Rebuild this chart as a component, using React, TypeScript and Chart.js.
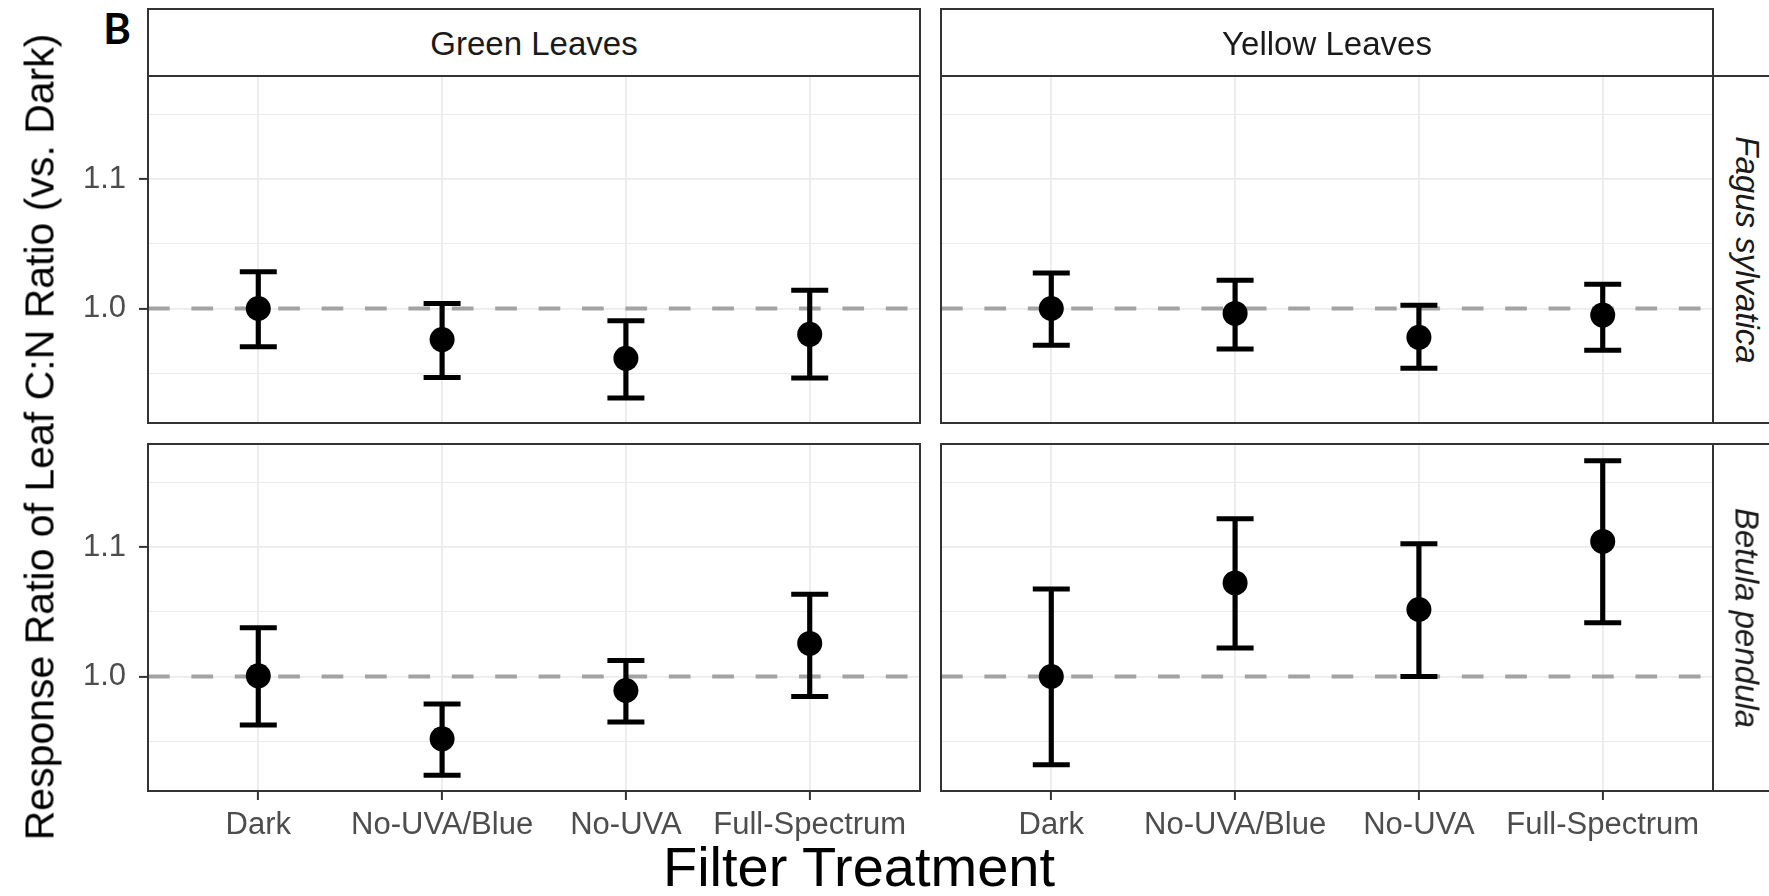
import React, { useEffect, useRef } from "react";
import { Chart, registerables } from "chart.js";

Chart.register(...registerables);

// ---------- data ----------
const treatments = ["Dark", "No-UVA/Blue", "No-UVA", "Full-Spectrum"];
const leafTypes = ["Green Leaves", "Yellow Leaves"];
const speciesNames = ["Fagus sylvatica", "Betula pendula"];

const fagusGreenMean = [1.0, 0.976, 0.9615, 0.98];
const fagusGreenLow = [0.9704, 0.9466, 0.9308, 0.9462];
const fagusGreenHigh = [1.0284, 1.0039, 0.9905, 1.0141];

const fagusYellowMean = [1.0, 0.9962, 0.9777, 0.9949];
const fagusYellowLow = [0.9715, 0.9687, 0.9538, 0.9677];
const fagusYellowHigh = [1.0274, 1.0218, 1.0026, 1.0187];

const betulaGreenMean = [1.0005, 0.9518, 0.9892, 1.0256];
const betulaGreenLow = [0.9626, 0.9236, 0.9649, 0.9846];
const betulaGreenHigh = [1.0377, 0.9787, 1.0123, 1.0636];

const betulaYellowMean = [1.0, 1.0723, 1.0518, 1.1044];
const betulaYellowLow = [0.9318, 1.022, 1.0, 1.0415];
const betulaYellowHigh = [1.0677, 1.122, 1.1026, 1.1667];

const yMajorTicks = [1.0, 1.1];
const yMinorStep = 0.05;
const yMin = 0.9115;
const yMax = 1.1797;
const referenceValue = 1.0;

const yTitle = "Response Ratio of Leaf C:N Ratio (vs. Dark)";
const xTitle = "Filter Treatment";
const panelLetter = "B";

// ---------- layout ----------
const FONT = "'Liberation Sans', Arial, sans-serif";
const colLeft = [148, 941];
const panelW = 772;
const rowTop = [76, 444];
const panelH = 347;
const Y_AXIS_W = 148;
const X_AXIS_H = 62;
const M = 3;

const isMajor = (v: number) => yMajorTicks.some((t) => Math.abs(t - v) < 1e-6);

const panelPlugin = {
  id: "panelDeco",
  beforeDatasetsDraw(chart: any) {
    const { ctx, chartArea, scales } = chart;
    const y = scales.y.getPixelForValue(referenceValue);
    ctx.save();
    ctx.beginPath();
    ctx.rect(chartArea.left, chartArea.top, chartArea.right - chartArea.left, chartArea.bottom - chartArea.top);
    ctx.clip();
    ctx.strokeStyle = "#a3a3a3";
    ctx.lineWidth = 4;
    ctx.setLineDash([21.7, 21.7]);
    ctx.beginPath();
    ctx.moveTo(chartArea.left, y);
    ctx.lineTo(chartArea.right, y);
    ctx.stroke();
    ctx.restore();
  },
  afterDatasetsDraw(chart: any) {
    const { ctx, chartArea } = chart;
    ctx.save();
    ctx.strokeStyle = "#333333";
    ctx.lineWidth = 2;
    ctx.strokeRect(chartArea.left, chartArea.top, chartArea.right - chartArea.left, chartArea.bottom - chartArea.top);
    ctx.restore();
  },
};

type PanelProps = {
  mean: number[];
  low: number[];
  high: number[];
  col: number;
  row: number;
};

function Panel({ mean, low, high, col, row }: PanelProps) {
  const ref = useRef<HTMLCanvasElement | null>(null);
  const showY = col === 0;
  const showX = row === 1;
  const leftExtra = showY ? Y_AXIS_W : M;
  const bottomExtra = showX ? X_AXIS_H : M;
  const cw = leftExtra + panelW + M;
  const ch = M + panelH + bottomExtra;
  const left = colLeft[col] - leftExtra;
  const top = rowTop[row] - M;

  useEffect(() => {
    if (!ref.current) return;
    const xs = treatments.map((_, i) => i + 1);
    const tickFont = { family: FONT, size: 31 };
    const chart = new Chart(ref.current, {
      type: "bar",
      data: {
        datasets: [
          {
            type: "line",
            data: xs.map((x, i) => ({ x, y: mean[i] })),
            showLine: false,
            pointRadius: 12.5,
            pointBackgroundColor: "#000000",
            pointBorderWidth: 0,
            order: 0,
          } as any,
          {
            type: "line",
            data: xs.map((x, i) => ({ x, y: high[i] })),
            showLine: false,
            pointStyle: "line",
            pointRadius: 18.5,
            pointBorderWidth: 5,
            pointBorderColor: "#000000",
            order: 1,
          } as any,
          {
            type: "line",
            data: xs.map((x, i) => ({ x, y: low[i] })),
            showLine: false,
            pointStyle: "line",
            pointRadius: 18.5,
            pointBorderWidth: 5,
            pointBorderColor: "#000000",
            order: 1,
          } as any,
          {
            type: "bar",
            data: xs.map((x, i) => ({ x, y: [low[i], high[i]] })),
            backgroundColor: "#000000",
            borderWidth: 0,
            barThickness: 4.5,
            order: 2,
          } as any,
        ],
      },
      options: {
        responsive: false,
        maintainAspectRatio: false,
        animation: false,
        devicePixelRatio: 1,
        layout: {
          autoPadding: false,
          padding: { left: showY ? 0 : M, right: M, top: M, bottom: showX ? 0 : M },
        },
        plugins: { legend: { display: false }, tooltip: { enabled: false } },
        scales: {
          x: {
            type: "linear",
            min: 0.4,
            max: 4.6,
            offset: false,
            afterBuildTicks: (s: any) => {
              s.ticks = xs.map((v) => ({ value: v }));
            },
            ticks: {
              display: showX,
              autoSkip: false,
              maxRotation: 0,
              color: "#4d4d4d",
              font: tickFont,
              padding: 7,
              callback: (v: any) => treatments[Math.round(v) - 1] ?? "",
            },
            grid: {
              offset: false,
              color: "#ebebeb",
              lineWidth: 1.8,
              drawTicks: showX,
              tickLength: 9,
              tickColor: "#333333",
              tickWidth: 2,
            },
            border: { display: false },
            afterFit: (s: any) => {
              s.height = showX ? X_AXIS_H : 0;
              s.paddingLeft = 0;
              s.paddingRight = 0;
            },
          },
          y: {
            type: "linear",
            min: yMin,
            max: yMax,
            ticks: {
              display: showY,
              stepSize: yMinorStep,
              includeBounds: false,
              autoSkip: false,
              color: "#4d4d4d",
              font: tickFont,
              padding: 13,
              callback: (v: any) => (isMajor(Number(v)) ? Number(v).toFixed(1) : ""),
            },
            grid: {
              offset: false,
              color: "#ebebeb",
              lineWidth: (c: any) => (c.tick && isMajor(c.tick.value) ? 1.8 : 1.1),
              drawTicks: showY,
              tickLength: 9,
              tickColor: (c: any) => (c.tick && isMajor(c.tick.value) ? "#333333" : "rgba(0,0,0,0)"),
              tickWidth: 2,
            },
            border: { display: false },
            afterFit: (s: any) => {
              s.width = showY ? Y_AXIS_W : 0;
              s.paddingTop = 0;
              s.paddingBottom = 0;
            },
          },
        },
      } as any,
      plugins: [panelPlugin],
    });
    return () => chart.destroy();
  }, []);

  return (
    <canvas
      ref={ref}
      width={cw}
      height={ch}
      style={{ position: "absolute", left, top, width: cw, height: ch }}
    />
  );
}

const centered = (x: number, y: number, extra: React.CSSProperties = {}): React.CSSProperties => ({
  position: "absolute",
  left: x,
  top: y,
  transform: "translate(-50%, -50%)",
  whiteSpace: "nowrap",
  lineHeight: 1,
  fontFamily: FONT,
  ...extra,
});

export default function App() {
  useEffect(() => {
    document.body.style.margin = "0";
  }, []);

  const panels = [
    { mean: fagusGreenMean, low: fagusGreenLow, high: fagusGreenHigh, col: 0, row: 0 },
    { mean: fagusYellowMean, low: fagusYellowLow, high: fagusYellowHigh, col: 1, row: 0 },
    { mean: betulaGreenMean, low: betulaGreenLow, high: betulaGreenHigh, col: 0, row: 1 },
    { mean: betulaYellowMean, low: betulaYellowLow, high: betulaYellowHigh, col: 1, row: 1 },
  ];

  return (
    <div
      style={{
        position: "relative",
        width: 1769,
        height: 896,
        overflow: "hidden",
        background: "#ffffff",
      }}
    >
      {panels.map((p, i) => (
        <Panel key={i} {...p} />
      ))}

      {leafTypes.map((name, c) => (
        <div
          key={name}
          style={{
            position: "absolute",
            left: colLeft[c] - 1,
            top: 8,
            width: panelW + 2,
            height: 69,
            boxSizing: "border-box",
            border: "2px solid #333333",
            background: "#ffffff",
          }}
        >
          <div style={centered((panelW + 2) / 2 - 2, 69 / 2 - 2, { fontSize: 33, color: "#1a1a1a" })}>{name}</div>
        </div>
      ))}

      {speciesNames.map((name, r) => (
        <div
          key={name}
          style={{
            position: "absolute",
            left: colLeft[1] + panelW - 1,
            top: rowTop[r] - 1,
            width: 69,
            height: panelH + 2,
            boxSizing: "border-box",
            border: "2px solid #333333",
            background: "#ffffff",
          }}
        >
          <div
            style={{
              ...centered(69 / 2 - 2, (panelH + 2) / 2 - 2, { fontSize: 33, color: "#1a1a1a", fontStyle: "italic" }),
              transform: "translate(-50%, -50%) rotate(90deg)",
            }}
          >
            {name}
          </div>
        </div>
      ))}

      <div style={centered(117, 28, { fontSize: 42, fontWeight: "bold", color: "#000", fontFamily: "Lato, 'Liberation Sans', sans-serif" })}>
        {panelLetter}
      </div>

      <div
        style={{
          ...centered(40, 437, { fontSize: 41, color: "#000" }),
          transform: "translate(-50%, -50%) rotate(-90deg)",
        }}
      >
        {yTitle}
      </div>

      <div style={centered(859, 867, { fontSize: 56, color: "#000" })}>{xTitle}</div>
    </div>
  );
}
